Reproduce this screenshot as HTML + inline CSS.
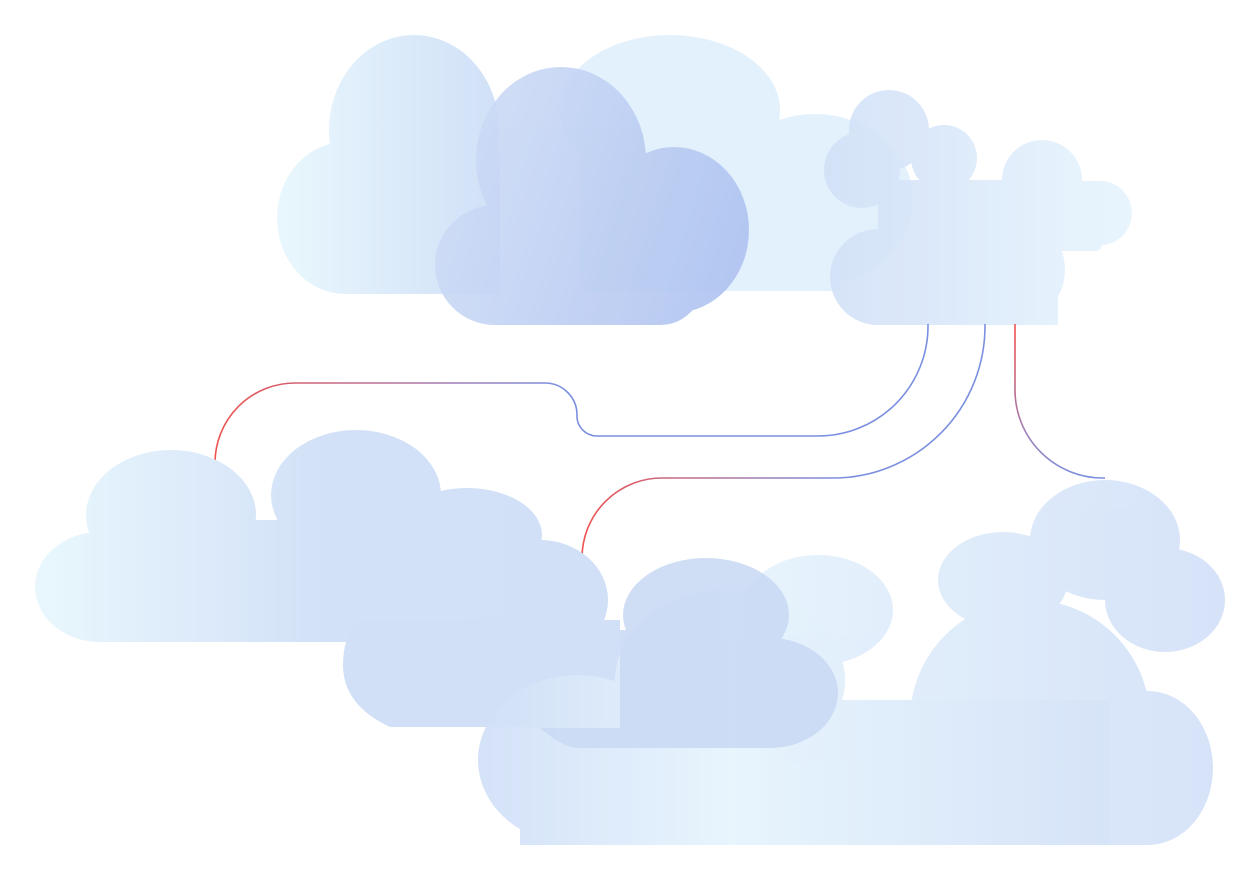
<!DOCTYPE html>
<html><head><meta charset="utf-8"><style>html,body{margin:0;padding:0;background:#fff}svg{display:block}</style></head>
<body>
<svg width="1260" height="880" viewBox="0 0 1260 880" xmlns="http://www.w3.org/2000/svg">
<defs>
<linearGradient id="gA" gradientUnits="userSpaceOnUse" x1="278" y1="0" x2="560" y2="0"><stop offset="0" stop-color="#e9f7fd"/><stop offset="1" stop-color="#cadaf5"/></linearGradient>
<linearGradient id="gB" gradientUnits="userSpaceOnUse" x1="430" y1="150" x2="750" y2="250"><stop offset="0" stop-color="#cfddf6"/><stop offset="1" stop-color="#aec2f0"/></linearGradient>
<linearGradient id="gD" gradientUnits="userSpaceOnUse" x1="825" y1="0" x2="1132" y2="0"><stop offset="0" stop-color="#d3e1f8"/><stop offset="1" stop-color="#e8f5fd"/></linearGradient>
<linearGradient id="gE" gradientUnits="userSpaceOnUse" x1="35" y1="0" x2="610" y2="0"><stop offset="0" stop-color="#e9f7fd"/><stop offset="0.5" stop-color="#d3e1f8"/><stop offset="1" stop-color="#d1dff7"/></linearGradient>
<linearGradient id="gG" gradientUnits="userSpaceOnUse" x1="478" y1="0" x2="1110" y2="0"><stop offset="0" stop-color="#d2e0f8"/><stop offset="0.4" stop-color="#e7f5fd"/><stop offset="1" stop-color="#d6e3f8"/></linearGradient>
<linearGradient id="gH" gradientUnits="userSpaceOnUse" x1="740" y1="0" x2="1225" y2="0"><stop offset="0" stop-color="#e6f3fc"/><stop offset="1" stop-color="#d4e1f8"/></linearGradient>
<linearGradient id="l1" gradientUnits="userSpaceOnUse" x1="215" y1="0" x2="560" y2="0"><stop offset="0" stop-color="#ef5350"/><stop offset="1" stop-color="#7b8fe0"/></linearGradient>
<linearGradient id="l2" gradientUnits="userSpaceOnUse" x1="582" y1="0" x2="840" y2="0"><stop offset="0" stop-color="#ef5350"/><stop offset="1" stop-color="#7b8fe0"/></linearGradient>
<linearGradient id="l3" gradientUnits="userSpaceOnUse" x1="0" y1="330" x2="0" y2="478"><stop offset="0" stop-color="#ef5350"/><stop offset="1" stop-color="#7b8fe0"/></linearGradient>
</defs>

<g fill="#e3f1fc">
<ellipse cx="670" cy="110" rx="110" ry="75"/>
<ellipse cx="815" cy="200" rx="98" ry="86"/>
<rect x="580" y="120" width="260" height="171"/>
</g>
<g fill="url(#gA)">
<ellipse cx="414" cy="130" rx="85" ry="95"/>
<ellipse cx="345" cy="218" rx="68" ry="76"/>
<rect x="345" y="150" width="155" height="144"/>
</g>
<g fill="url(#gB)" opacity="0.9">
<ellipse cx="561" cy="160" rx="85" ry="93"/>
<ellipse cx="674" cy="230" rx="75" ry="83"/>
<ellipse cx="560" cy="218" rx="68" ry="75"/>
<ellipse cx="495" cy="265" rx="60" ry="60"/>
<path d="M495,200 H665 V300 L700,300 Q685,325 660,325 H495 Z"/>
</g>
<g fill="url(#gD)" opacity="0.92">
<circle cx="889" cy="130" r="40"/>
<circle cx="944" cy="158" r="33"/>
<circle cx="862" cy="170" r="38"/>
<circle cx="1042" cy="180" r="40"/>
<circle cx="1100" cy="213" r="32"/>
<circle cx="878" cy="277" r="48"/>
<ellipse cx="1010" cy="270" rx="55" ry="55"/>
<rect x="878" y="180" width="180" height="145"/>
<rect x="1040" y="181" width="62" height="70" rx="6"/>
</g>

<g fill="none" stroke-width="1.6">
<path d="M215,465 V463 A80,80 0 0 1 295,383 H545 A32,32 0 0 1 577,415 A20,20 0 0 0 597,436 H818 A110,110 0 0 0 928,326 V324" stroke="url(#l1)"/>
<path d="M582,560 V558 A80,80 0 0 1 662,478 H833 A152,152 0 0 0 985,326 V324" stroke="url(#l2)"/>
<path d="M1015,324 V390 A88,88 0 0 0 1103,478 H1105" stroke="url(#l3)"/>
</g>

<g fill="url(#gH)" opacity="0.95">
<ellipse cx="818" cy="610" rx="75" ry="55"/>
<ellipse cx="1105" cy="540" rx="75" ry="60"/>
<ellipse cx="1003" cy="580" rx="65" ry="48"/>
<ellipse cx="1165" cy="600" rx="60" ry="52"/>
<ellipse cx="1030" cy="720" rx="120" ry="120"/>
<ellipse cx="1148" cy="768" rx="65" ry="77"/>
<rect x="760" y="700" width="390" height="145"/>
</g>
<g fill="url(#gE)">
<ellipse cx="171" cy="515" rx="85" ry="65"/>
<ellipse cx="100" cy="587" rx="65" ry="55"/>
<ellipse cx="356" cy="495" rx="85" ry="65"/>
<ellipse cx="467" cy="535" rx="75" ry="47"/>
<ellipse cx="540" cy="600" rx="68" ry="60"/>
<rect x="100" y="520" width="420" height="122"/>
</g>
<g fill="#d1dff7">
<path d="M360,620 H620 V727 H390 Q343,705 343,665 Q343,635 360,620 Z"/>
</g>
<g fill="url(#gG)" opacity="0.95">
<ellipse cx="578" cy="760" rx="100" ry="85"/>
<ellipse cx="730" cy="680" rx="115" ry="90"/>
<ellipse cx="845" cy="775" rx="70" ry="70"/>
<rect x="520" y="700" width="590" height="145"/>
</g>
<g fill="#cbdbf5" opacity="0.92">
<ellipse cx="706" cy="615" rx="83" ry="57"/>
<ellipse cx="770" cy="693" rx="68" ry="55"/>
<path d="M540,728 H620 V748 H575 Q560,745 540,728 Z"/>
<rect x="620" y="630" width="150" height="118"/>
</g>
</svg>
</body></html>
